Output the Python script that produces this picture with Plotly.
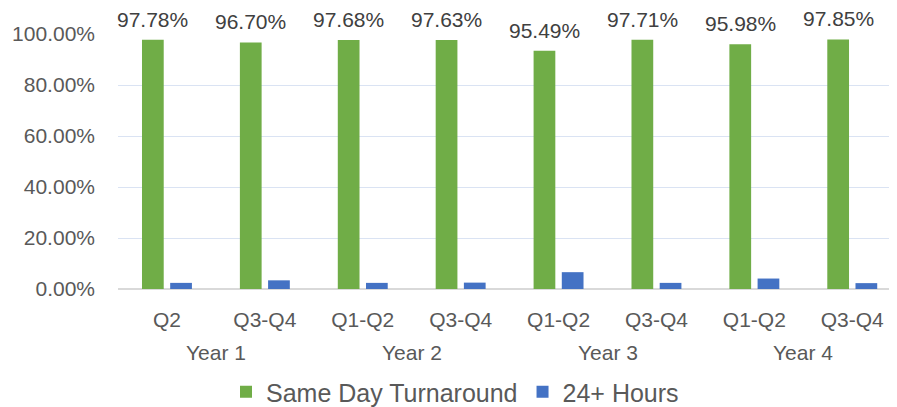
import plotly.graph_objects as go

years = ["Year 1", "Year 1", "Year 2", "Year 2", "Year 3", "Year 3", "Year 4", "Year 4"]
periods = ["Q2", "Q3-Q4", "Q1-Q2", "Q3-Q4", "Q1-Q2", "Q3-Q4", "Q1-Q2", "Q3-Q4"]
same_day = [97.78, 96.70, 97.68, 97.63, 93.4, 97.71, 95.98, 97.85]
same_day_labels = ["97.78%", "96.70%", "97.68%", "97.63%", "95.49%", "97.71%", "95.98%", "97.85%"]
hours_24 = [2.4, 3.4, 2.4, 2.5, 6.6, 2.4, 4.1, 2.3]

GREEN = "#70ad47"
BLUE = "#4472c4"
FONT = "Liberation Sans"

# page body has an 8px default margin; figure sized to fill the rest of the window
W, H = 889, 399

xpos = list(range(len(periods)))
bar_w = 0.222

fig = go.Figure()
fig.add_trace(go.Bar(
    x=xpos, y=same_day, name="Same Day Turnaround",
    marker=dict(color=GREEN, line=dict(width=0)),
    width=bar_w, offset=-0.255,
))
fig.add_trace(go.Bar(
    x=xpos, y=hours_24, name="24+ Hours",
    marker=dict(color=BLUE, line=dict(width=0)),
    width=bar_w, offset=0.033,
))

# data labels above green bars
for xi, v, lab in zip(xpos, same_day, same_day_labels):
    fig.add_annotation(
        x=xi - 0.144, y=v, xref="x", yref="y", text=lab, showarrow=False,
        yanchor="bottom", xanchor="center", yshift=7,
        font=dict(family=FONT, size=21, color="#404040"),
    )

# year group labels
seen = []
for yr in years:
    if yr not in seen:
        seen.append(yr)
for yr in seen:
    idx = [i for i, y in enumerate(years) if y == yr]
    fig.add_annotation(
        x=sum(idx) / len(idx), y=0, xref="x", yref="paper", yshift=-63,
        text=yr, showarrow=False, yanchor="middle", xanchor="center",
        font=dict(family=FONT, size=21, color="#595959"),
    )

fig.update_layout(
    width=W, height=H,
    margin=dict(l=110, r=0, t=26, b=118, autoexpand=False),
    paper_bgcolor="white", plot_bgcolor="white",
    barmode="overlay",
    font=dict(family=FONT, size=21, color="#595959"),
    showlegend=True,
    legend=dict(
        orientation="h", xref="container", yref="container",
        x=447 / W, xanchor="center", y=1 - 384 / H, yanchor="middle",
        font=dict(family=FONT, size=25, color="#595959"),
        itemwidth=30, tracegroupgap=0,
    ),
)
fig.update_xaxes(
    range=[-0.5, 7.457], tickvals=xpos, ticktext=periods,
    showgrid=False, zeroline=False, showline=False, ticks="",
    ticklabelstandoff=16,
    tickfont=dict(family=FONT, size=21, color="#595959"),
)
fig.update_yaxes(
    range=[0, 100], dtick=20, tickformat=".2f", ticksuffix="%",
    showgrid=True, gridcolor="#dae3f3", gridwidth=1,
    zeroline=True, zerolinecolor="#d9d9d9", zerolinewidth=2,
    ticks="", ticklabelstandoff=22,
    tickfont=dict(family=FONT, size=21, color="#595959"),
)

fig.write_html("out.html")
